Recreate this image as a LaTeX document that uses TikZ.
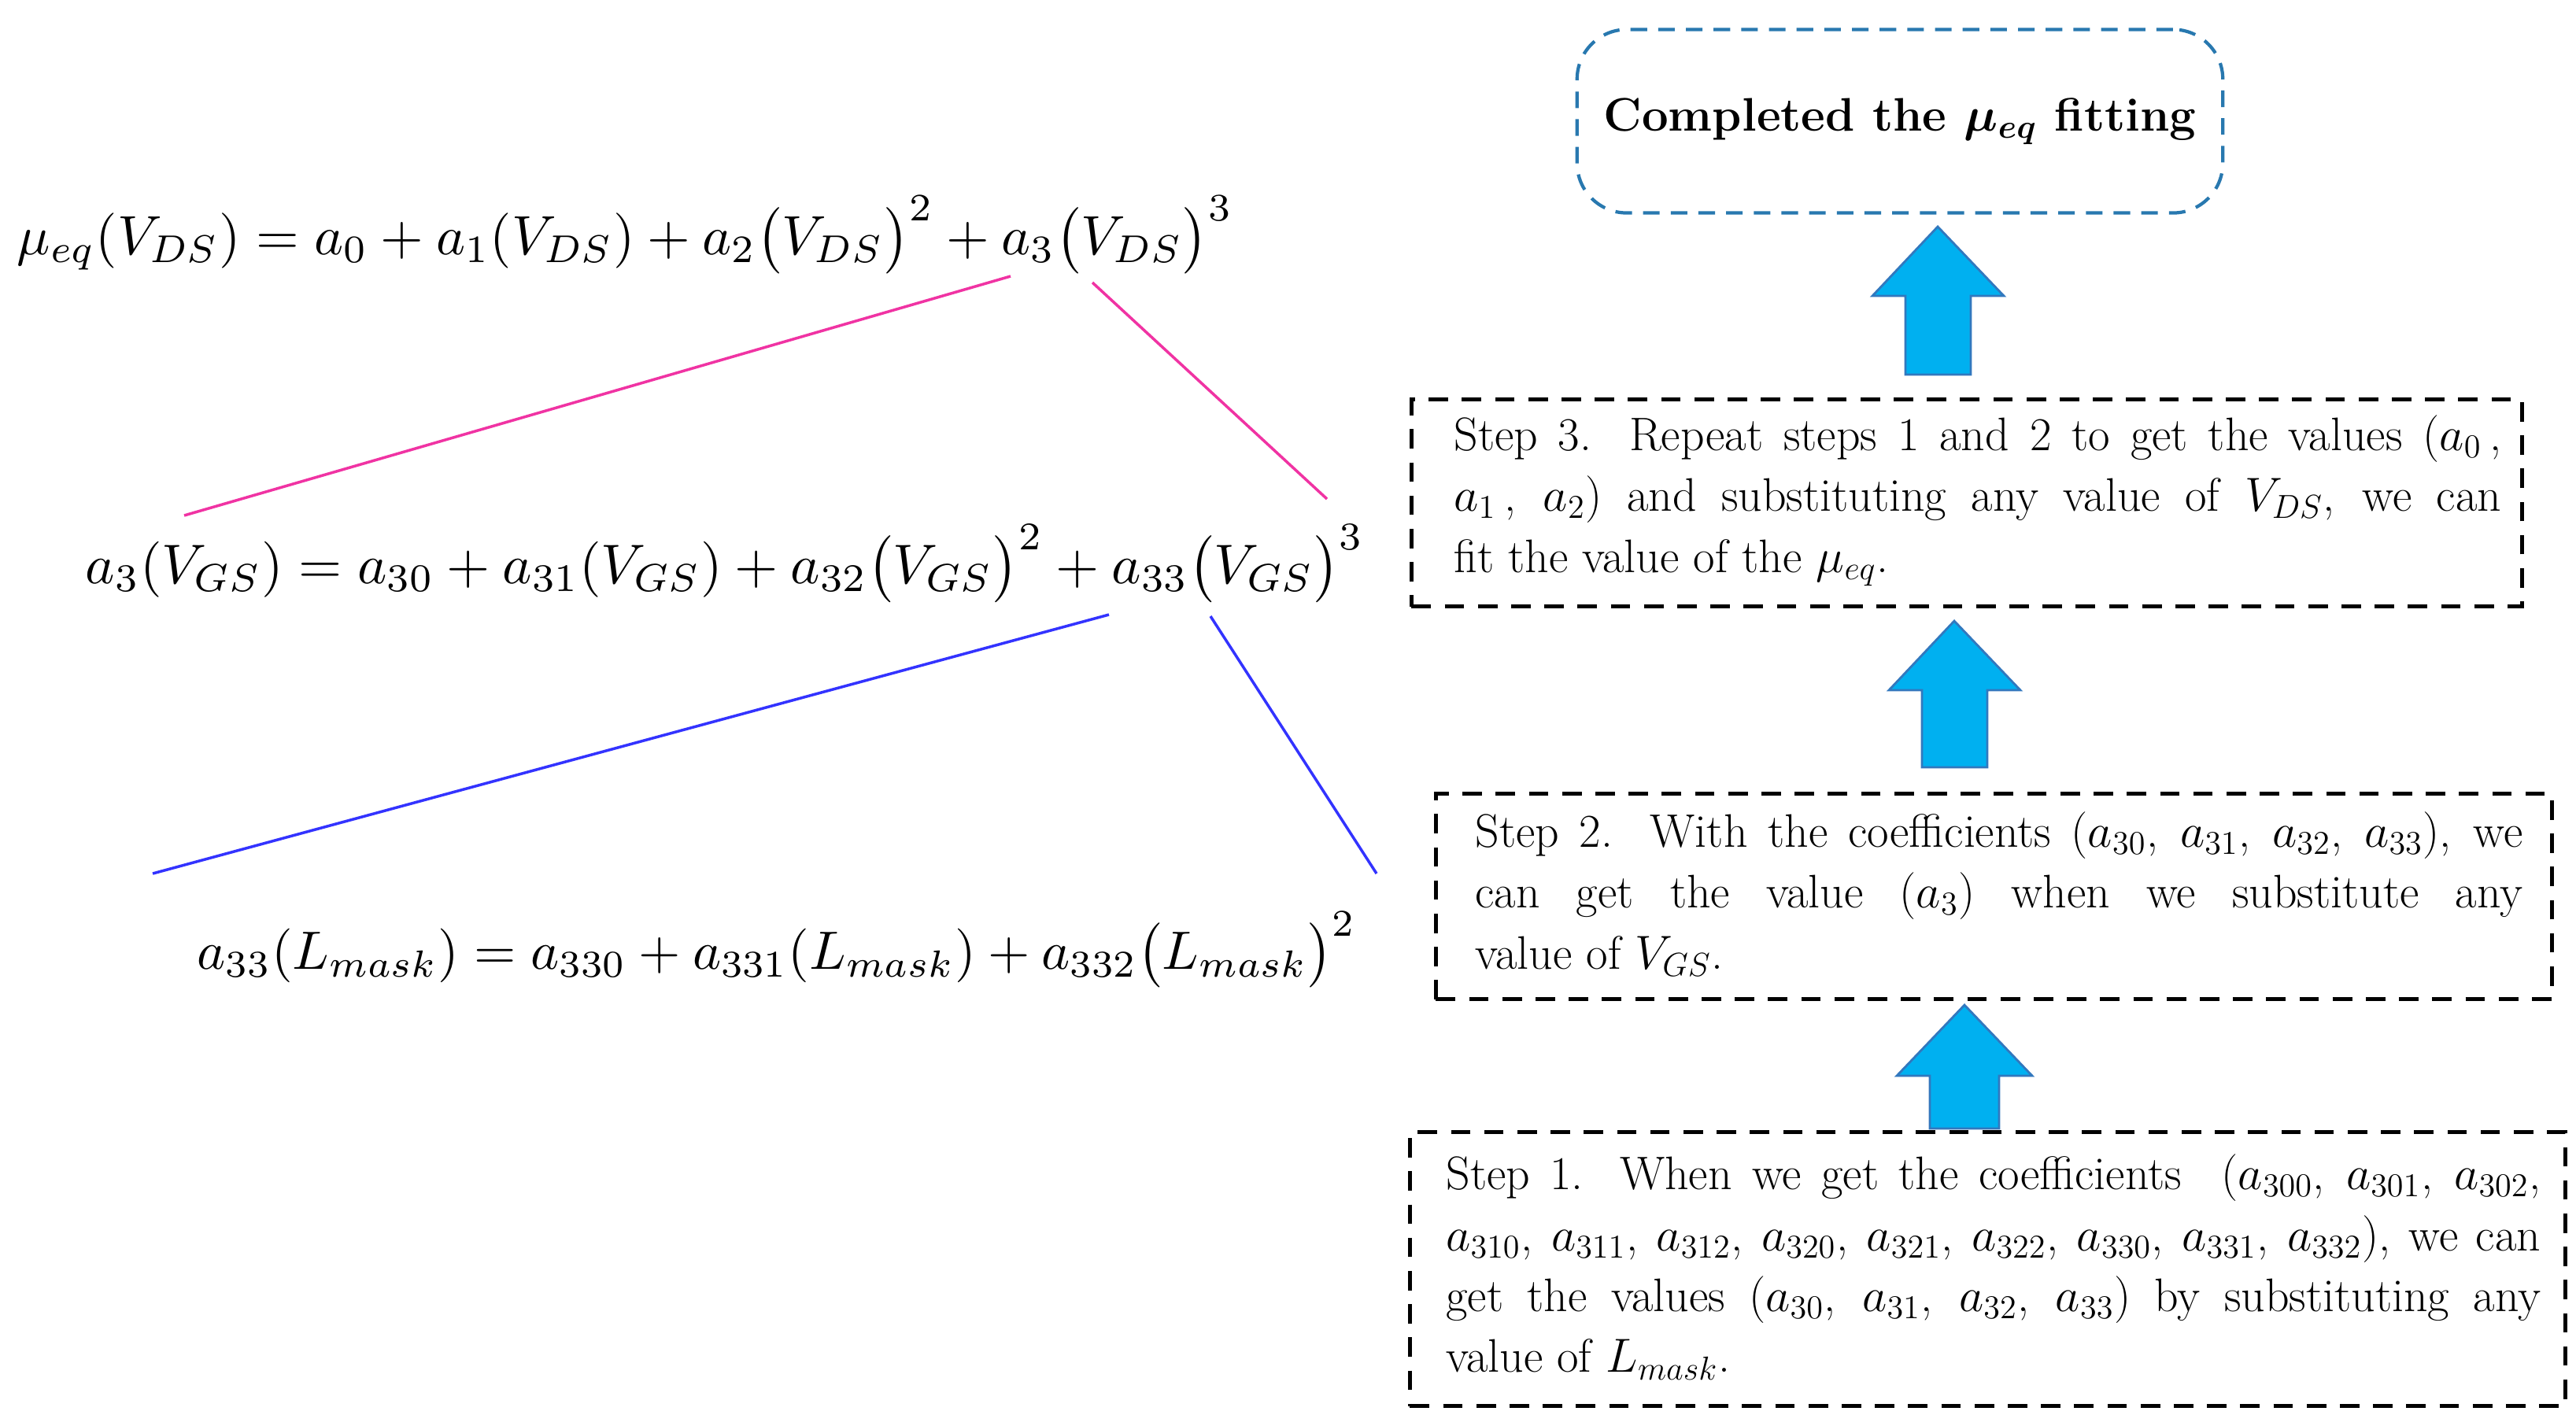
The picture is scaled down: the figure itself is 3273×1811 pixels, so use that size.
\documentclass[tikz,border=0pt]{standalone}
\usepackage{amsmath}
\begin{document}
\begin{tikzpicture}[x=0.01cm,y=-0.01cm,
  stepbox/.style={draw=black,line width=1.4pt,dash pattern=on 7pt off 5pt,inner sep=0pt,anchor=north west},
  stxt/.style={text width=13.3cm,align=justify,font=\fontsize{17}{22}\selectfont},
  eq/.style={inner sep=0pt,anchor=base west}]
\useasboundingbox (0,0) rectangle (3273,1811);
\definecolor{boxblue}{RGB}{40,120,175}
\definecolor{arrfill}{RGB}{0,176,240}
\definecolor{arrdraw}{RGB}{50,120,190}
\tikzset{uparrow/.style={fill=arrfill,draw=arrdraw,line width=0.8pt}}
% top box
\node[draw=boxblue,rounded corners=18pt,line width=1.2pt,dash pattern=on 6pt off 4pt,minimum width=8.2cm,minimum height=2.33cm,inner sep=0pt] (top) at (2414,154) {\fontsize{17}{21}\selectfont\bfseries Completed the $\boldsymbol{\mu_{eq}}$ fitting};
% steps
\node[stepbox,minimum width=14.1cm,minimum height=2.63cm] (s3) at (1791,505) {};
\node[stxt,anchor=west] (t3) at (1835,636) {Step 3. Repeat steps 1 and 2 to get the values ($a_0$\,,\linebreak $a_1$\,, $a_2$) and substituting any value of $V_{DS}$, we can\linebreak fit the value of the $\mu_{eq}$.};
\node[stepbox,minimum width=14.17cm,minimum height=2.61cm] (s2) at (1822,1006) {};
\node[stxt,anchor=west] (t2) at (1862,1136) {Step 2. With the coefficients ($a_{30}$, $a_{31}$, $a_{32}$, $a_{33}$), we\linebreak can get the value ($a_3$) when we substitute any\linebreak value of $V_{GS}$.};
\node[stepbox,minimum width=14.67cm,minimum height=3.48cm] (s1) at (1789,1436) {};
\node[stxt,anchor=west,text width=13.9cm] (t1) at (1825,1610) {Step 1. When we get the coefficients \ ($a_{300}$, $a_{301}$, $a_{302}$,\linebreak $a_{310}$, $a_{311}$, $a_{312}$, $a_{320}$, $a_{321}$, $a_{322}$, $a_{330}$, $a_{331}$, $a_{332}$), we can\linebreak get the values ($a_{30}$, $a_{31}$, $a_{32}$, $a_{33}$) by substituting any\linebreak value of $L_{mask}$.};
% arrows
\draw[uparrow] (2462,288) -- (2546,376) -- (2504,376) -- (2504,476) -- (2421,476) -- (2421,376) -- (2379,376) -- cycle;
\draw[uparrow] (2483,789) -- (2567,877) -- (2525,877) -- (2525,975) -- (2442,975) -- (2442,877) -- (2400,877) -- cycle;
\draw[uparrow] (2496,1277) -- (2582,1367) -- (2540,1367) -- (2540,1434) -- (2452,1434) -- (2452,1367) -- (2410,1367) -- cycle;
% equations
\node[eq] (e1) at (21,323) {\resizebox{15.44cm}{!}{$\mu_{eq}(V_{DS})=a_0+a_1(V_{DS})+a_2\bigl(V_{DS}\bigr)^2+a_3\bigl(V_{DS}\bigr)^3$}};
\node[eq] (e2) at (108,741) {\resizebox{16.24cm}{!}{$a_3(V_{GS})=a_{30}+a_{31}(V_{GS})+a_{32}\bigl(V_{GS}\bigr)^2+a_{33}\bigl(V_{GS}\bigr)^3$}};
\node[eq] (e3) at (250,1231) {\resizebox{14.72cm}{!}{$a_{33}(L_{mask})=a_{330}+a_{331}(L_{mask})+a_{332}\bigl(L_{mask}\bigr)^2$}};
% connectors
\coordinate (m1) at (1284,351); \coordinate (m2) at (234,655);
\coordinate (m3) at (1388,359); \coordinate (m4) at (1686,634);
\coordinate (b1) at (1409,781); \coordinate (b2) at (194,1110);
\coordinate (b3) at (1538,783); \coordinate (b4) at (1749,1110);
\draw[magenta!80,line width=1pt] (m1) -- (m2);
\draw[magenta!80,line width=1pt] (m3) -- (m4);
\draw[blue!80,line width=1pt] (b1) -- (b2);
\draw[blue!80,line width=1pt] (b3) -- (b4);
\end{tikzpicture}
\end{document}
